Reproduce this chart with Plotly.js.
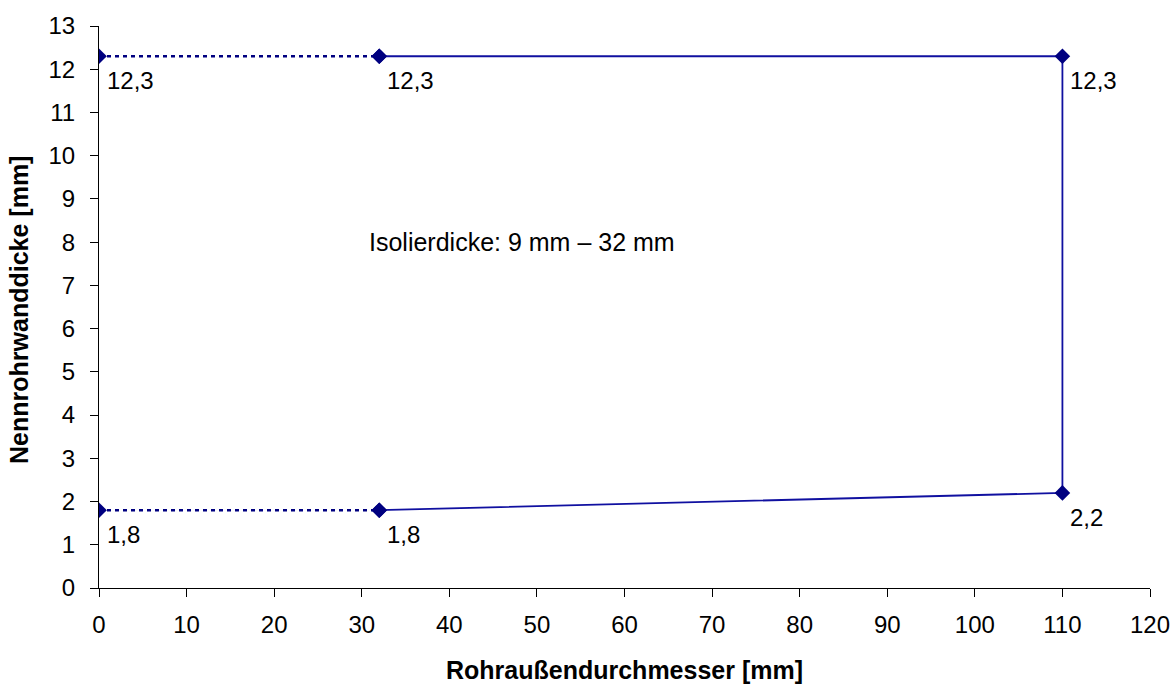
<!DOCTYPE html>
<html><head><meta charset="utf-8">
<script src="https://cdn.plot.ly/plotly-3.0.1.min.js"></script>
<style>html,body{margin:0;padding:0;background:#fff}#chart{width:1175px;height:684px}</style>
</head><body><div id="chart"></div>
<script>
// Data
const dashedTopX = [0, 32];
const dashedTopY = [12.3, 12.3];
const dashedBottomX = [0, 32];
const dashedBottomY = [1.8, 1.8];
const solidX = [32, 110, 110, 32];
const solidY = [12.3, 12.3, 2.2, 1.8];
const labelX = [0, 32, 110, 0, 32, 110];
const labelY = [12.3, 12.3, 12.3, 1.8, 1.8, 2.2];
const labelText = ["12,3", "12,3", "12,3", "1,8", "1,8", "2,2"];
const noteText = "Isolierdicke: 9 mm \u2013 32 mm";
const noteX = 48.3, noteY = 8;
const xTitle = "Rohraußendurchmesser [mm]";
const yTitle = "Nennrohrwanddicke [mm]";

const navy = "#000080";
const font = "Liberation Sans, Arial, sans-serif";
const mk = {symbol: "diamond", size: 12, color: navy};

const traces = [
  {x: dashedTopX, y: dashedTopY, mode: "lines+markers", line: {color: navy, width: 2.5, dash: "4px,4px"}, marker: mk, hoverinfo: "none"},
  {x: dashedBottomX, y: dashedBottomY, mode: "lines+markers", line: {color: navy, width: 2.5, dash: "4px,4px"}, marker: mk, hoverinfo: "none"},
  {x: solidX, y: solidY, mode: "lines+markers", line: {color: "#1010a0", width: 1.8}, marker: mk, hoverinfo: "none"}
];

const annotations = labelX.map((x, i) => ({
  x: x, y: labelY[i], text: labelText[i], showarrow: false,
  xanchor: "left", yanchor: "top", xshift: 6, yshift: -9,
  font: {family: font, size: 24, color: "#000"}
}));
annotations.push({x: noteX, y: noteY, text: noteText, showarrow: false,
  xanchor: "center", yanchor: "middle", font: {family: font, size: 25, color: "#000"}});
annotations.push({xref: "paper", yref: "paper", x: 0.5, y: -0.146, text: "<b>" + xTitle + "</b>",
  showarrow: false, xanchor: "center", yanchor: "middle", font: {family: font, size: 25, color: "#000"}});
annotations.push({xref: "paper", yref: "paper", x: -0.076, y: 0.495, text: "<b>" + yTitle + "</b>", textangle: -90,
  showarrow: false, xanchor: "center", yanchor: "middle", font: {family: font, size: 25, color: "#000"}});

const layout = {
  width: 1175, height: 684,
  margin: {l: 98.5, r: 25, t: 26, b: 96, pad: 0},
  paper_bgcolor: "#fff", plot_bgcolor: "#fff",
  showlegend: false,
  font: {family: font, size: 24, color: "#000"},
  xaxis: {
    range: [0, 120], dtick: 10, tick0: 0, showgrid: false, zeroline: false,
    showline: true, linecolor: "#000", linewidth: 1,
    ticks: "outside", ticklen: 8, tickcolor: "#000", tickwidth: 1, ticklabelstandoff: 7,
    tickfont: {family: font, size: 24, color: "#000"}
  },
  yaxis: {
    range: [0, 13], dtick: 1, tick0: 0, showgrid: false, zeroline: false,
    showline: true, linecolor: "#000", linewidth: 1,
    ticks: "outside", ticklen: 8, tickcolor: "#000", tickwidth: 1, ticklabelstandoff: 10,
    tickfont: {family: font, size: 24, color: "#000"}
  },
  annotations: annotations
};

Plotly.newPlot("chart", traces, layout, {staticPlot: true, displayModeBar: false});
</script></body></html>
